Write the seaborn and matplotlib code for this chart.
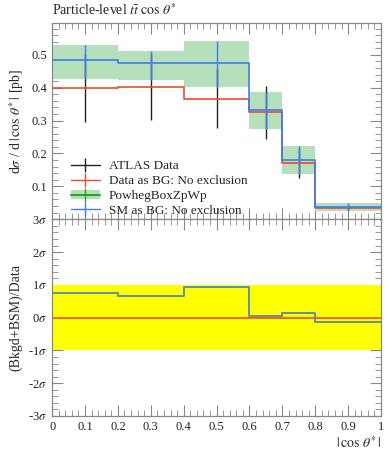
import numpy as np
import pandas as pd
import seaborn as sns
import matplotlib.pyplot as plt
from matplotlib.ticker import MultipleLocator, FixedLocator
from matplotlib.lines import Line2D
from matplotlib.patches import Patch

# bins in |cos theta*|
edges = [0.0, 0.2, 0.4, 0.6, 0.7, 0.8, 1.0]
centers = [0.1, 0.3, 0.5, 0.65, 0.75, 0.9]

# ATLAS data (= Data as BG)
data_vals = [0.399, 0.402, 0.367, 0.325, 0.172, 0.035]
data_errs = [0.103, 0.101, 0.089, 0.080, 0.046, 0.008]
# SM as BG (+ BSM)
sm_vals = [0.483, 0.475, 0.475, 0.333, 0.180, 0.038]
# PowhegBoxZpWp band
pw_lo = [0.426, 0.424, 0.401, 0.273, 0.138, 0.025]
pw_hi = [0.530, 0.513, 0.542, 0.386, 0.222, 0.050]
# significance in ratio panel
sig_vals = [0.75, 0.65, 0.93, 0.06, 0.14, -0.14]

sns.set_style("ticks")
plt.rcParams["font.family"] = ["Liberation Serif", "DejaVu Serif"]
plt.rcParams["mathtext.fontset"] = "stix"
plt.rcParams["font.size"] = 9

red = "#ee4a2e"
blue = "#3f7cf2"
green = "#2ca02c"
band = "#b5e0bb"

def steps(vals):
    return pd.DataFrame({"x": edges, "y": list(vals) + [vals[-1]]})

fig = plt.figure(figsize=(3.92, 4.5), dpi=100)
ax = fig.add_axes([0.133, 0.513, 0.839, 0.436])
rx = fig.add_axes([0.133, 0.0756, 0.839, 0.437], sharex=ax)

# main panel
ax.fill_between(edges, list(pw_lo) + [pw_lo[-1]], list(pw_hi) + [pw_hi[-1]],
                step="post", color=band, lw=0)
ax.errorbar(centers, data_vals, yerr=data_errs, fmt="none", ecolor="#222222", elinewidth=1.0)
sns.lineplot(data=steps(data_vals), x="x", y="y", ax=ax, drawstyle="steps-post",
             color=red, lw=1.2, estimator=None)
sm_err = [(h - l) / 2 for h, l in zip(pw_hi, pw_lo)]
sm_mid = [(h + l) / 2 for h, l in zip(pw_hi, pw_lo)]
ax.errorbar(centers, sm_mid, yerr=sm_err, fmt="none", ecolor=blue, elinewidth=1.0)
sns.lineplot(data=steps(sm_vals), x="x", y="y", ax=ax, drawstyle="steps-post",
             color=blue, lw=1.2, estimator=None)

ax.set_xlim(0, 1)
ax.set_ylim(0, 0.597)
ax.set_xlabel("")
ax.set_ylabel(r"d$\sigma$ / d$\,|\,\cos\,\theta^{*}\,|$ [pb]", fontsize=10, labelpad=4)
ax.yaxis.set_major_locator(FixedLocator([0.1, 0.2, 0.3, 0.4, 0.5]))
ax.yaxis.set_minor_locator(MultipleLocator(0.02))
ax.xaxis.set_major_locator(MultipleLocator(0.1))
ax.xaxis.set_minor_locator(MultipleLocator(0.02))
ax.tick_params(axis="x", labelbottom=False)
ax.set_title(r"Particle-level $t\bar{t}$ $\cos\,\theta^{*}$", loc="left", fontsize=10, pad=6)

handles = [
    Line2D([], [], color="#222222", marker="|", markersize=10, lw=1.0),
    Line2D([], [], color=red, marker="|", markersize=10, lw=1.0),
    (Patch(color=band, lw=0), Line2D([], [], color=green, marker="|", markersize=10, lw=1.5)),
    Line2D([], [], color=blue, marker="|", markersize=10, lw=1.0),
]
labels = ["ATLAS Data", "Data as BG: No exclusion", "PowhegBoxZpWp", "SM as BG: No exclusion"]
ax.legend(handles, labels, loc="lower left", bbox_to_anchor=(0.02, -0.05), frameon=False,
          fontsize=9.5, handlelength=2.2, labelspacing=0.2, handletextpad=0.7)

# ratio panel
rx.axhspan(-1, 1, color="#ffff00", lw=0)
rx.axhline(0, color=red, lw=1.2)
sns.lineplot(data=steps(sig_vals), x="x", y="y", ax=rx, drawstyle="steps-post",
             color="#5f8fa8", lw=1.4, estimator=None)
rx.set_ylim(-3, 3)
rx.set_xlim(0, 1)
rx.yaxis.set_major_locator(FixedLocator([-3, -2, -1, 0, 1, 2, 3]))
rx.set_yticklabels([r"-3$\sigma$", r"-2$\sigma$", r"-1$\sigma$", r"0$\sigma$",
                    r"1$\sigma$", r"2$\sigma$", r"3$\sigma$"])
rx.yaxis.set_minor_locator(MultipleLocator(0.2))
rx.set_xticks(np.arange(0, 1.01, 0.1))
rx.set_xticklabels(["0", "0.1", "0.2", "0.3", "0.4", "0.5", "0.6", "0.7", "0.8", "0.9", "1"])
rx.xaxis.set_minor_locator(MultipleLocator(0.02))
rx.set_ylabel("(Bkgd+BSM)/Data", fontsize=10, labelpad=4)
rx.set_xlabel(r"$|\,\cos\,\theta^{*}\,|$", fontsize=10, loc="right", labelpad=2)

for a in (ax, rx):
    for s in a.spines.values():
        s.set_visible(True)
        s.set_color("#888888")
        s.set_linewidth(0.9)
    a.tick_params(which="both", direction="in", top=True, right=True, color="#888888",
                  labelsize=9, labelcolor="#222222")
    a.tick_params(which="major", length=8, width=0.8)
    a.tick_params(which="minor", length=4, width=0.6)

fig.savefig("out.png", dpi=100)
